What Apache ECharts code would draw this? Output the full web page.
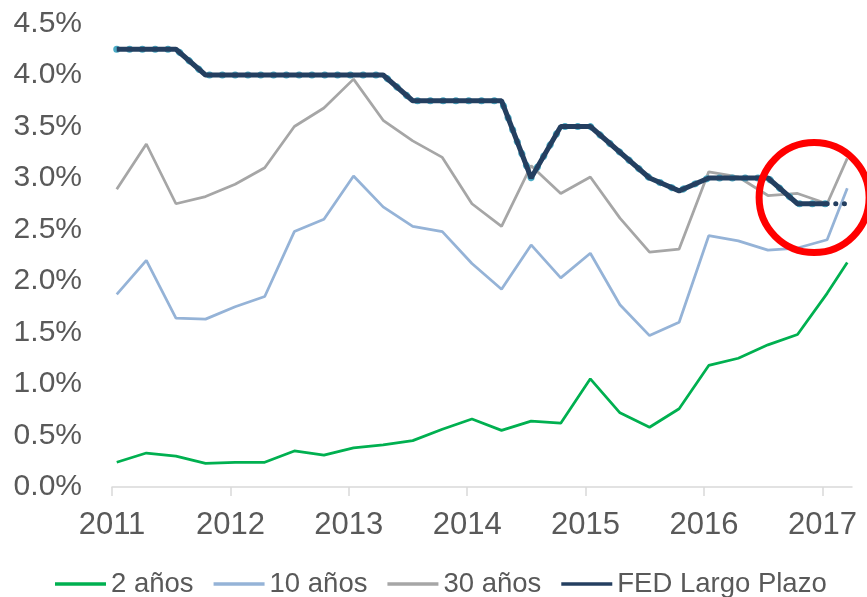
<!DOCTYPE html>
<html>
<head>
<meta charset="utf-8">
<script src="https://cdn.jsdelivr.net/npm/echarts@6/dist/echarts.min.js"></script>
<style>
html,body{margin:0;padding:0;background:#fff;}
#chart{width:867px;height:597px;}
</style>
</head>
<body>
<div id="chart"></div>
<script>
// Quarterly observation dates (decimal years) + final observation
const dates = [2011.04, 2011.29, 2011.54, 2011.79, 2012.04, 2012.29, 2012.54, 2012.79,
  2013.04, 2013.29, 2013.54, 2013.79, 2014.04, 2014.29, 2014.54, 2014.79,
  2015.04, 2015.29, 2015.54, 2015.79, 2016.04, 2016.29, 2016.54, 2016.79,
  2017.04, 2017.21];
const yearTicks = [2011, 2012, 2013, 2014, 2015, 2016, 2017];
const seriesNames = ['2 años', '10 años', '30 años', 'FED Largo Plazo'];

const y2 = [0.24, 0.33, 0.30, 0.23, 0.24, 0.24, 0.35, 0.31, 0.38, 0.41, 0.45, 0.56, 0.66,
  0.55, 0.64, 0.62, 1.05, 0.72, 0.58, 0.76, 1.18, 1.25, 1.38, 1.48, 1.88, 2.18];
const y10 = [1.87, 2.20, 1.64, 1.63, 1.75, 1.85, 2.48, 2.60, 3.02, 2.72, 2.53, 2.48, 2.17,
  1.92, 2.35, 2.03, 2.27, 1.77, 1.47, 1.60, 2.44, 2.39, 2.30, 2.32, 2.40, 2.90];
const y30 = [2.89, 3.33, 2.75, 2.82, 2.94, 3.10, 3.50, 3.68, 3.96, 3.56, 3.36, 3.20, 2.75,
  2.53, 3.12, 2.85, 3.01, 2.61, 2.28, 2.31, 3.06, 3.01, 2.83, 2.85, 2.75, 3.19];
const fed = [4.25, 4.25, 4.25, 4.00, 4.00, 4.00, 4.00, 4.00, 4.00, 4.00, 3.75, 3.75, 3.75,
  3.75, 3.00, 3.50, 3.50, 3.25, 3.00, 2.875, 3.00, 3.00, 3.00, 2.75, 2.75, 2.75];

// annotation circle (data coordinates of its centre)
const annotCenter = [2016.93, 2.81];

const pairs = (ys) => ys.map((v, i) => [dates[i], v]);
const fedSolid = pairs(fed).slice(0, fed.length - 1);
const fedTail = pairs(fed).slice(fed.length - 2);

const FONT = '"Liberation Sans", Arial, sans-serif';
const chart = echarts.init(document.getElementById('chart'), null, {renderer: 'canvas'});

const option = {
  animation: false,
  backgroundColor: '#ffffff',
  grid: {left: 112, right: 15, top: 23.5, bottom: 110, containLabel: false},
  xAxis: {
    type: 'value', min: 2011, max: 2017.25, interval: 1,
    axisLine: {show: true, lineStyle: {color: '#D9D9D9', width: 1.5}},
    axisTick: {show: true, length: 9, lineStyle: {color: '#D9D9D9', width: 1.5}, customValues: yearTicks},
    axisLabel: {color: '#595959', fontSize: 31, fontFamily: FONT, margin: 23,
      customValues: yearTicks, formatter: v => String(Math.round(v))},
    splitLine: {show: false}
  },
  yAxis: {
    type: 'value', min: 0, max: 4.5, interval: 0.5,
    axisLine: {show: false}, axisTick: {show: false}, splitLine: {show: false},
    axisLabel: {color: '#595959', fontSize: 30, fontFamily: FONT, margin: 30,
      formatter: v => v.toFixed(1) + '%'}
  },
  legend: {
    data: [
      {name: seriesNames[0], icon: 'rect'},
      {name: seriesNames[1], icon: 'rect'},
      {name: seriesNames[2], icon: 'rect'},
      {name: seriesNames[3], icon: 'rect'}
    ],
    left: 50, top: 565, itemWidth: 51, itemHeight: 3.5, itemGap: 20,
    textStyle: {color: '#595959', fontSize: 27.5, fontFamily: FONT}
  },
  series: [
    {name: seriesNames[0], type: 'line', data: pairs(y2), showSymbol: false, symbol: 'none',
      color: '#00B050', lineStyle: {width: 2.75, color: '#00B050'}, z: 2},
    {name: seriesNames[1], type: 'line', data: pairs(y10), showSymbol: false, symbol: 'none',
      color: '#95B3D7', lineStyle: {width: 2.75, color: '#95B3D7'}, z: 2},
    {name: seriesNames[2], type: 'line', data: pairs(y30), showSymbol: false, symbol: 'none',
      color: '#A6A6A6', lineStyle: {width: 2.75, color: '#A6A6A6'}, z: 2},
    {name: 'fed-dots', type: 'line', data: fedSolid, showSymbol: false, symbol: 'none',
      lineStyle: {width: 7, color: '#4BACC6', type: [0.1, 12.7], cap: 'round'}, z: 3},
    {name: seriesNames[3], type: 'line', data: fedSolid, showSymbol: false, symbol: 'none',
      color: '#243F60', lineStyle: {width: 5, color: '#243F60'}, z: 4},
    {name: 'fed-tail', type: 'line', data: fedTail, showSymbol: false, symbol: 'none',
      lineStyle: {width: 5, color: '#243F60', type: [0.1, 8.5], cap: 'round'}, z: 4}
  ]
};
chart.setOption(option);

const c = chart.convertToPixel({gridIndex: 0}, annotCenter);
chart.setOption({
  graphic: [{
    type: 'circle', z: 100,
    shape: {cx: c[0], cy: c[1], r: 55},
    style: {fill: 'none', stroke: '#FF0000', lineWidth: 7}
  }]
});
</script>
</body>
</html>
